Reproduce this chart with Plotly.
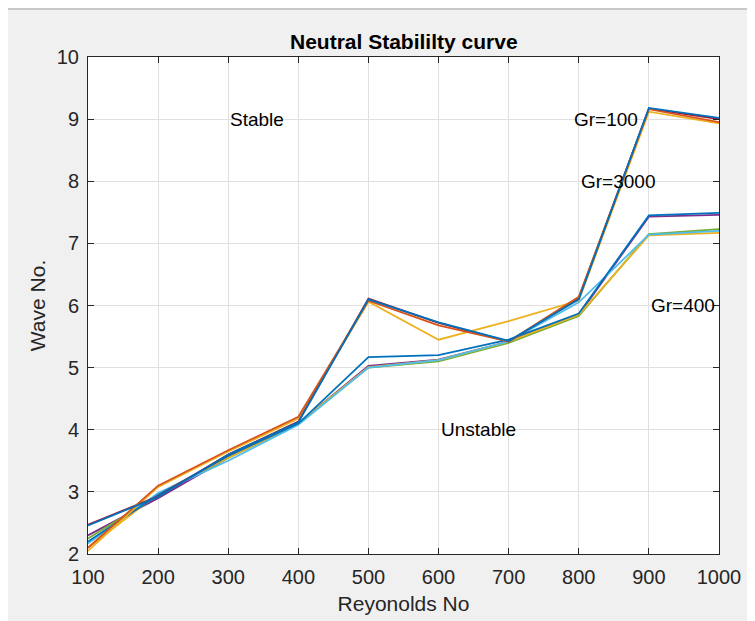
import plotly.graph_objects as go

reynolds = [100, 200, 300, 400, 500, 600, 700, 800, 900, 1000]

# wave number series (one line each, MATLAB default colour order)
s1_blue = [2.46, 2.92, 3.60, 4.12, 6.10, 5.73, 5.43, 6.10, 9.18, 9.02]
s2_orange = [2.10, 3.10, 3.67, 4.21, 6.08, 5.68, 5.42, 6.14, 9.16, 8.95]
s3_yellow = [2.05, 3.08, 3.65, 4.18, 6.06, 5.45, 5.75, 6.08, 9.12, 8.93]
s4_purple = [2.30, 2.90, 3.55, 4.10, 5.03, 5.13, 5.42, 5.85, 7.43, 7.46]
s5_green = [2.25, 2.95, 3.55, 4.10, 5.00, 5.10, 5.40, 5.83, 7.15, 7.23]
s6_lightblue = [2.17, 2.98, 3.50, 4.08, 5.00, 5.12, 5.42, 6.05, 7.14, 7.20]
s7_darkred = [2.47, 2.93, 3.60, 4.13, 6.11, 5.72, 5.42, 6.12, 9.17, 9.00]
s8_blue = [2.20, 2.95, 3.58, 4.10, 5.17, 5.20, 5.45, 5.87, 7.45, 7.49]
s9_yellow = [2.10, 2.97, 3.55, 4.10, 5.01, 5.12, 5.42, 5.85, 7.13, 7.17]

series = [
    (s4_purple, "#7E2F8E"),
    (s5_green, "#77AC30"),
    (s9_yellow, "#EDB120"),
    (s6_lightblue, "#4DBEEE"),
    (s8_blue, "#0072BD"),
    (s3_yellow, "#EDB120"),
    (s7_darkred, "#A2142F"),
    (s2_orange, "#D95319"),
    (s1_blue, "#0072BD"),
]

labels = [
    ("Stable", 300, 9.0),
    ("Gr=100", 790, 9.0),
    ("Gr=3000", 800, 8.0),
    ("Gr=400", 900, 6.0),
    ("Unstable", 600, 4.0),
]

FONT = "Liberation Sans, Arial, Helvetica, sans-serif"

# figure is placed at (8, 8) in the page; plot box at page px x 88..719, y 57..554
W, H = 747, 613
L, T = 80, 49
PW, PH = 631, 497
B = H - T - PH
R = W - L - PW

fig = go.Figure()
for vals, col in series:
    fig.add_trace(go.Scatter(x=reynolds, y=vals, mode="lines",
                             line=dict(color=col, width=1.8),
                             showlegend=False, hoverinfo="skip"))

for txt, x, y in labels:
    fig.add_annotation(x=x, y=y, text=txt, xref="x", yref="y",
                       showarrow=False, xanchor="left", yanchor="middle",
                       font=dict(family=FONT, size=19, color="#000000"))

fig.add_annotation(x=0.5, y=(PH + T - 34) / PH, xref="paper", yref="paper",
                   text="<b>Neutral Stabililty curve</b>", showarrow=False,
                   xanchor="center", yanchor="middle",
                   font=dict(family=FONT, size=21, color="#000000"))

axis_common = dict(
    showline=True, linecolor="#262626", linewidth=1, mirror="ticks",
    ticks="inside", ticklen=6, tickcolor="#262626", tickwidth=1,
    showgrid=True, gridcolor="#e0e0e0", gridwidth=1, zeroline=False,
    tickfont=dict(family=FONT, size=20, color="#262626"),
    automargin=False,
)

fig.update_xaxes(range=[100, 1000], tickvals=reynolds,
                 title=dict(text="Reyonolds No", standoff=9,
                            font=dict(family=FONT, size=21, color="#262626")),
                 ticklabelstandoff=5, **axis_common)
fig.update_yaxes(range=[2, 10], tickvals=[2, 3, 4, 5, 6, 7, 8, 9, 10],
                 title=dict(text="Wave No.", standoff=5,
                            font=dict(family=FONT, size=21, color="#262626")),
                 ticklabelstandoff=4, **axis_common)

# thin border line along the top of the grey window
fig.add_shape(type="line", xref="paper", yref="paper",
              x0=-L / PW, x1=(W - L) / PW,
              y0=(PH + T - 1) / PH, y1=(PH + T - 1) / PH,
              line=dict(color="#a0a0a0", width=1), layer="above")

fig.update_layout(
    width=W, height=H,
    margin=dict(l=L, r=R, t=T, b=B),
    paper_bgcolor="#f0f0f0", plot_bgcolor="#ffffff",
    font=dict(family=FONT, color="#262626"),
)

fig.write_html("out.html")
